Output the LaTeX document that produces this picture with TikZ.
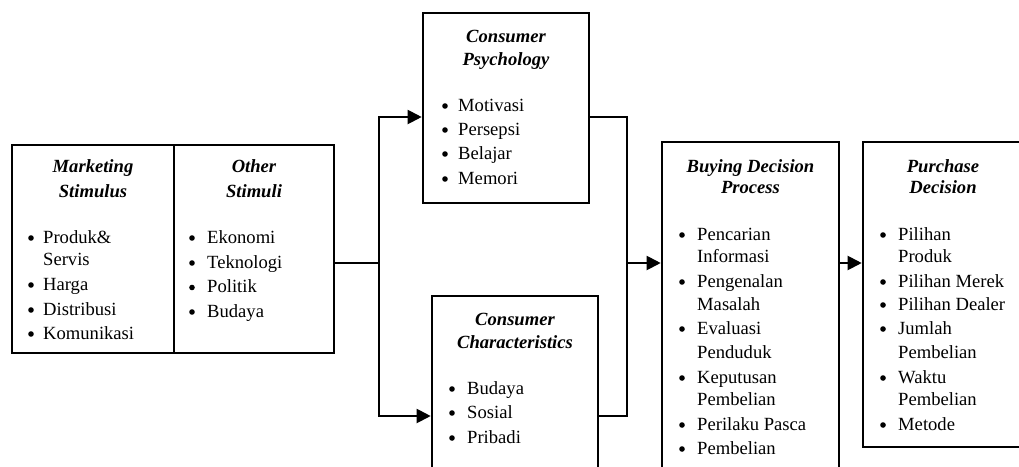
\documentclass[tikz,border=0pt]{standalone}
\usepackage{fontspec}
\setmainfont{Liberation Serif}
\usetikzlibrary{arrows.meta}
\tikzset{
  boxnode/.style={draw, line width=2.6pt, inner sep=0pt, fill=white},
  conn/.style={line width=2pt},
  arr/.style={conn, -{Triangle[length=14pt,width=14pt]}},
  head/.style={anchor=base, inner sep=0pt, font=\fontsize{18.6}{22}\selectfont\bfseries\itshape},
  itemtext/.style={anchor=base west, inner sep=0pt, font=\fontsize{18.6}{22}\selectfont},
  bul/.style={circle, fill=black, inner sep=0pt, minimum size=5.6pt},
}
% \itemlist{prefix}{bullet x}{text x}{list of y/bullet/text}
\newcommand{\itemlist}[4]{%
  \foreach \yy/\bb/\tt [count=\ii] in {#4}{%
    \node[itemtext] (#1-t\ii) at (#3,\yy) {\tt};
    \ifnum\bb=1 \node[bul] (#1-b\ii) at (#2,\yy-5) {}; \fi
  }%
}
\begin{document}
\begin{tikzpicture}[x=1pt,y=-1pt]
\useasboundingbox (0,0) rectangle (1019,466);
\clip (0,0) rectangle (1019,466);
% boxes
\node[boxnode, minimum width=162pt, minimum height=208pt] (mkt) at (93,249) {};
\node[boxnode, minimum width=160pt, minimum height=208pt] (oth) at (254,249) {};
\node[boxnode, minimum width=166pt, minimum height=190pt] (psy) at (506,108) {};
\node[boxnode, minimum width=166pt, minimum height=204pt] (chr) at (515,398) {};
\node[boxnode, minimum width=177pt, minimum height=358pt] (buy) at (750.5,321) {};
\node[boxnode, minimum width=167pt, minimum height=305pt] (pur) at (946.5,294.5) {};
% connector coordinates
\coordinate (ja) at (379,263);
\coordinate (jb) at (627,263);
\coordinate (ya) at (0,117);
\coordinate (yb) at (0,416);
\draw[conn] (oth.east |- ja) -- (ja);
\draw[arr] (ja) |- (psy.west |- ya);
\draw[arr] (ja) |- (chr.west |- yb);
\draw[conn] (psy.east |- ya) -| (jb);
\draw[conn] (chr.east |- yb) -| (jb);
\draw[arr] (jb) -- (buy.west |- jb);
\draw[arr] (buy.east |- jb) -- (pur.west |- jb);
% headers
\node[head] (mkt-h1) at (93,172) {Marketing};
\node[head] (mkt-h2) at (93,197) {Stimulus};
\node[head] (oth-h1) at (254,172) {Other};
\node[head] (oth-h2) at (254,197) {Stimuli};
\node[head] (psy-h1) at (506,42.5) {Consumer};
\node[head] (psy-h2) at (506,65) {Psychology};
\node[head] (chr-h1) at (515,325) {Consumer};
\node[head] (chr-h2) at (515,348) {Characteristics};
\node[head] (buy-h1) at (750.5,172) {Buying Decision};
\node[head] (buy-h2) at (750.5,193) {Process};
\node[head] (pur-h1) at (943,172) {Purchase};
\node[head] (pur-h2) at (943,193) {Decision};
% items
\itemlist{mkt}{31}{43}{243/1/{Produk\&}, 265/0/Servis, 290/1/Harga, 315/1/Distribusi, 339/1/Komunikasi}
\itemlist{oth}{192}{207}{243/1/Ekonomi, 268/1/Teknologi, 292.5/1/Politik, 317/1/Budaya}
\itemlist{psy}{445}{458}{111/1/Motivasi, 135/1/Persepsi, 159/1/Belajar, 184/1/Memori}
\itemlist{chr}{452}{467}{394/1/Budaya, 418/1/Sosial, 443/1/Pribadi}
\itemlist{buy}{682}{697}{240/1/Pencarian, 262/0/Informasi, 287/1/Pengenalan, 310/0/Masalah, 334/1/Evaluasi, 358/0/Penduduk, 383/1/Keputusan, 405/0/Pembelian, 430/1/{Perilaku Pasca}, 454/1/Pembelian}
\itemlist{pur}{883}{898}{240/1/Pilihan, 262/0/Produk, 287/1/{Pilihan Merek}, 310/1/{Pilihan Dealer}, 334/1/Jumlah, 358/0/Pembelian, 383/1/Waktu, 405/0/Pembelian, 430/1/Metode}
\end{tikzpicture}
\end{document}
